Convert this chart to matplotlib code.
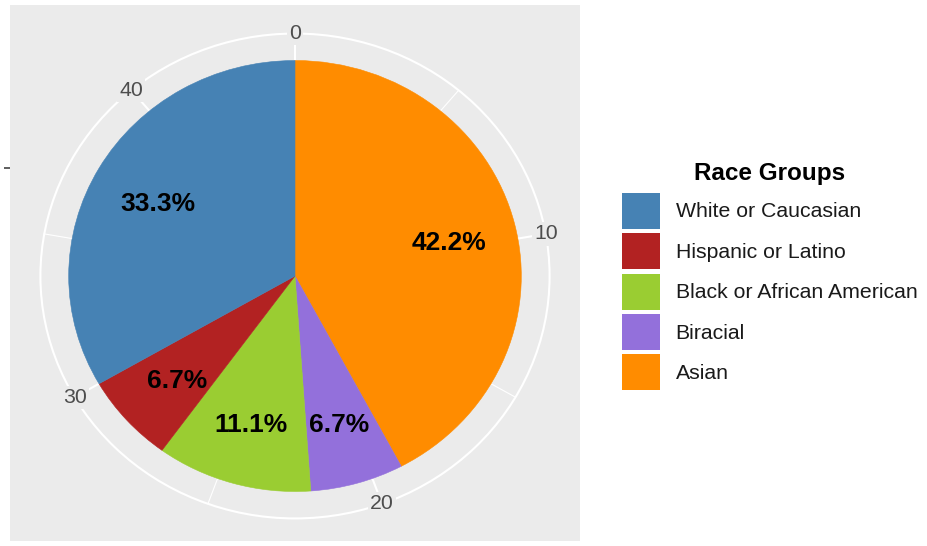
import numpy as np
import matplotlib
matplotlib.use("Agg")
import matplotlib.pyplot as plt
from matplotlib.patches import Patch, Circle

plt.rcParams['font.family'] = ['Liberation Sans', 'DejaVu Sans']

# Data (counts, clockwise from the top)
groups = ['Asian', 'Biracial', 'Black or African American',
          'Hispanic or Latino', 'White or Caucasian']
counts = [19, 3, 5, 3, 15]
colors = ['#FF8C00', '#9370DB', '#9ACD32', '#B22222', '#4682B4']
legend_order = ['White or Caucasian', 'Hispanic or Latino',
                'Black or African American', 'Biracial', 'Asian']
theta_ticks = [0, 10, 20, 30, 40]
theta_minor = [5, 15, 25, 35]

total = sum(counts)
W, H = 927, 546
fig = plt.figure(figsize=(W / 100, H / 100), dpi=100)

# panel in pixels: x 10..580, y 5..541 (from top); pie centre (295, 276)
cx, cy, rx, ry = 295, 276, 226.3, 215.5
left, right, top, bottom = 10, 580, 5, 541
ax = fig.add_axes([left / W, (H - bottom) / H, (right - left) / W, (bottom - top) / H])

outer = 1.125


def polar_xy(value, r):
    t = 2 * np.pi * value / total
    return r * np.sin(t), r * np.cos(t)


# grid: outer circle and spokes
ax.add_patch(Circle((0, 0), outer, fill=False, edgecolor='white', lw=1.5, zorder=1))
for v in theta_ticks:
    x, y = polar_xy(v, outer)
    ax.plot([0, x], [0, y], color='white', lw=1.5, zorder=1)
for v in theta_minor:
    x, y = polar_xy(v, outer)
    ax.plot([0, x], [0, y], color='white', lw=0.8, zorder=1)

wedges, texts, autotexts = ax.pie(
    counts, colors=colors, startangle=90, counterclock=False, radius=1,
    autopct='%1.1f%%', pctdistance=0.70,
    wedgeprops=dict(linewidth=0.4, edgecolor=None),
    textprops=dict(fontsize=19, fontweight='bold', color='black'))
for w in wedges:
    w.set_edgecolor(w.get_facecolor())
    w.set_zorder(2)
for t in autotexts:
    t.set_zorder(3)
    x, y = t.get_position()
    t.set_position((x, y - 0.018))

# theta tick labels, centred on the outer circle
for v in theta_ticks:
    x, y = polar_xy(v, outer)
    ax.text(x, y, str(v), ha='center', va='center', fontsize=15.3,
            color='#4D4D4D', zorder=4,
            bbox=dict(boxstyle='square,pad=0.1', facecolor='#EBEBEB', edgecolor='none'))

# pie() switches the frame off, so bring the grey panel back
ax.set_frame_on(True)
ax.set_facecolor('#EBEBEB')
ax.set_aspect('auto')
ax.set_xlim((left - cx) / rx, (right - cx) / rx)
ax.set_ylim((cy - bottom) / ry, (cy - top) / ry)
for s in ax.spines.values():
    s.set_visible(False)
ax.set_xticks([])
ax.set_yticks([0.5])
ax.set_yticklabels([''])
ax.tick_params(axis='y', length=4.5, width=1.1, color='#333333')

# legend
col = dict(zip(groups, colors))
handles = [Patch(facecolor=col[g], edgecolor='none') for g in legend_order]
fs = 15.3
fspx = fs * 100 / 72
key_h = 36
hh = (key_h / fspx - 0.245) / 0.65
leg = fig.legend(handles, legend_order, loc='upper left',
                 bbox_to_anchor=(622 / W, 1 - 162 / H),
                 frameon=False, fontsize=fs, title='Race Groups',
                 title_fontproperties=dict(size=17.5, weight='bold'),
                 handlelength=38 / fspx, handleheight=hh,
                 handletextpad=0.74, labelspacing=0.21, borderpad=0,
                 borderaxespad=0)
leg._legend_box.sep = 5.5
for t in leg.get_texts():
    t.set_color('#1A1A1A')

fig.savefig('out.png', dpi=100, facecolor='white')
